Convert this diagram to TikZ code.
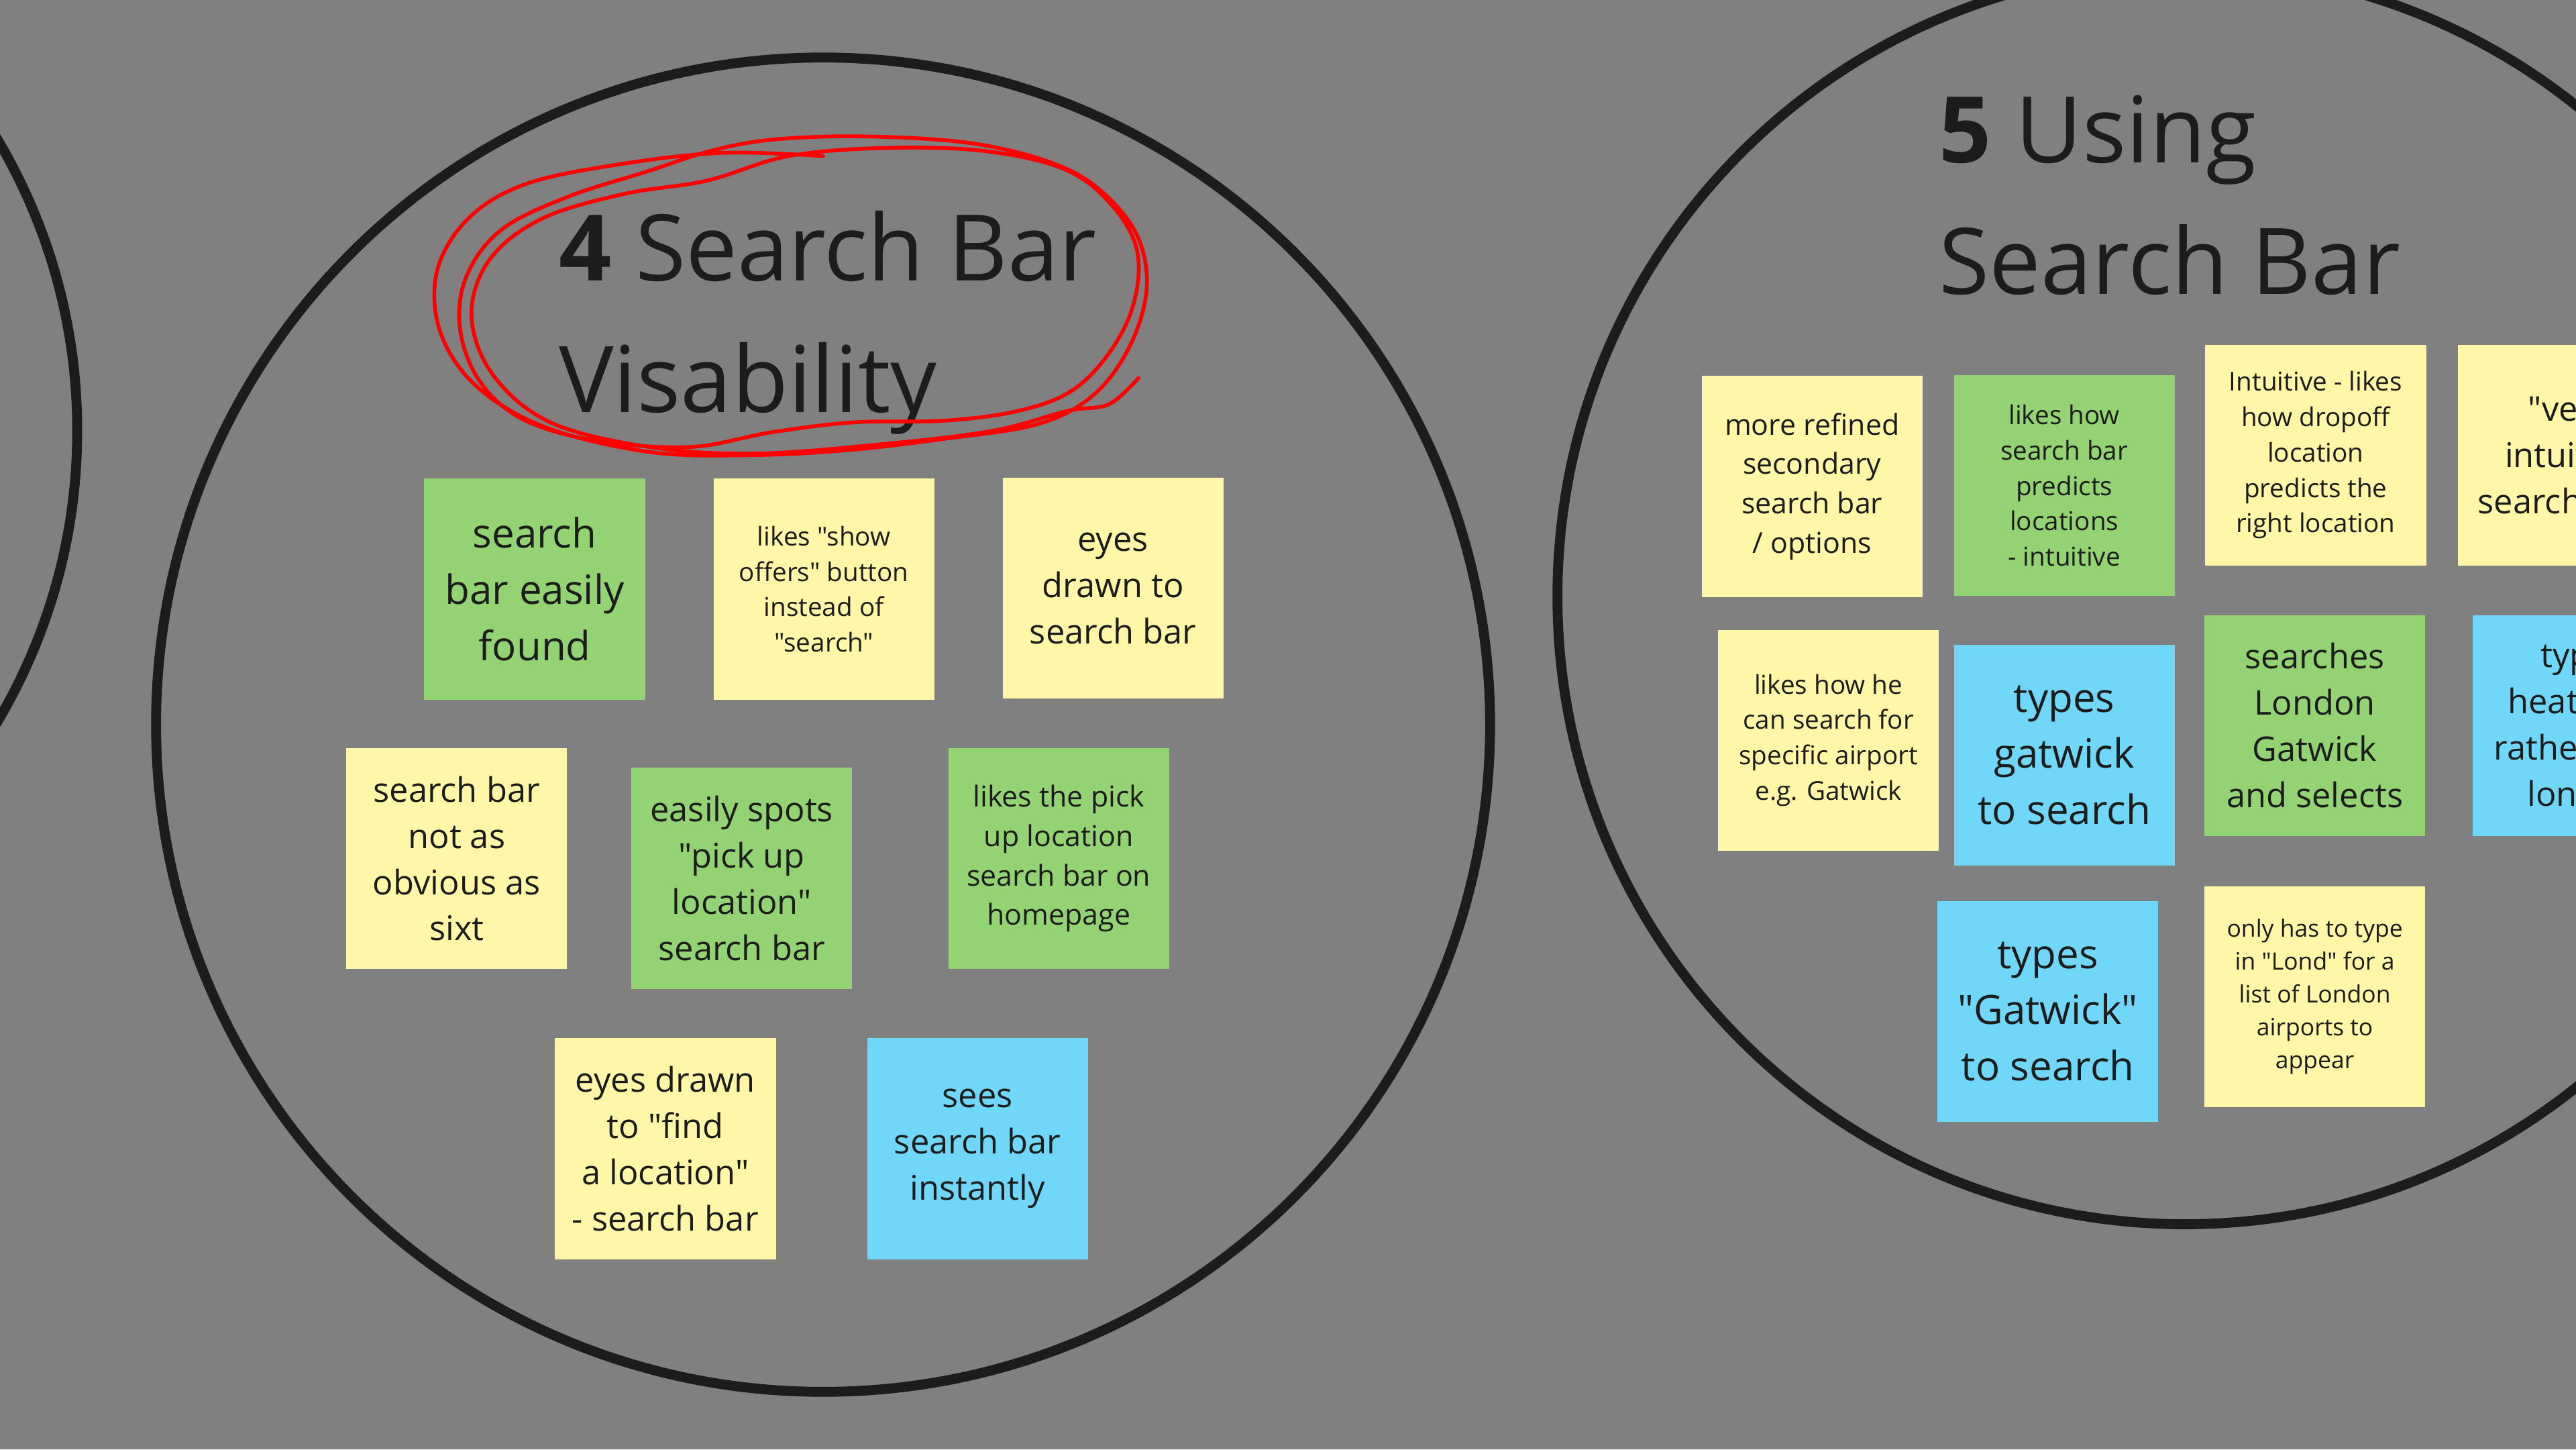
\documentclass[tikz,border=0pt]{standalone}
\usepackage{fontspec}
\newfontfamily\boardfont{Open Sans}
\usetikzlibrary{shadows}

\definecolor{board}{HTML}{808080}
\definecolor{ink}{HTML}{1C1C1C}
\definecolor{noteyellow}{HTML}{FFF6A8}
\definecolor{notegreen}{HTML}{94D374}
\definecolor{noteblue}{HTML}{70D7F9}

\begin{document}
\begin{tikzpicture}[x=0.02449cm,y=-0.02449cm,
    ring/.style={draw=ink,line width=4.2pt},
    scribble/.style={draw=red,line width=1.6pt,line join=round,line cap=round},
    heading/.style={anchor=base west,inner sep=0pt,text=ink,font=\boardfont\fontsize{39}{55}\selectfont},
    note/.style={minimum width=93.7pt,minimum height=93.7pt,inner sep=0pt,align=center,text=ink,
      drop shadow={shadow xshift=1pt,shadow yshift=-4pt,opacity=0.3}},
    yellow/.style={note,fill=noteyellow},
    green/.style={note,fill=notegreen},
    blue/.style={note,fill=noteblue},
    huge/.style={font=\boardfont\fontsize{17.1}{23.8}\selectfont},
    large/.style={font=\boardfont\fontsize{14.4}{19.6}\selectfont},
    medium/.style={font=\boardfont\fontsize{12.2}{16.7}\selectfont},
    small/.style={font=\boardfont\fontsize{11}{15}\selectfont},
    tiny/.style={font=\boardfont\fontsize{10.1}{13.9}\selectfont}]

  \useasboundingbox (0,0) rectangle (1568,882);
  \clip (0,0) rectangle (1568,882);
  \fill[board] (0,0) rectangle (1568,882);

  % the clusters
  \draw[ring] (-300,262) circle (347);
  \draw[ring] (501,441) circle (406);
  \draw[ring] (1330,363) circle (382);

  % titles
  \node (t4) at (340,171) [heading] {\textbf{4} Search Bar};
  \node (t4b) at (340,251) [heading] {Visability};
  \node (t5) at (1180,99) [heading] {\textbf{5} Using};
  \node (t5b) at (1180,179) [heading] {Search Bar};

  \draw[scribble] plot[smooth,tension=0.6] coordinates {
    (501,95) (440,93) (377,100) (320,112) (285,133) (266,165) (268,202) (290,235)
    (332,260) (395,275) (455,277) (515,274) (575,267) (632,258) (666,240) (688,210)
    (698,175) (692,143) (670,116) (640,99) (590,87) (525,83) (470,85) (432,92)
    (395,104) (345,120) (305,140) (284,168) (280,200) (292,232) (318,255) (362,268)
    (420,272) (470,263) (520,257) (575,256) (620,250) (652,238) (675,215) (690,185)
    (692,152) (676,124) (648,103) (600,92) (540,90) (480,95) (430,110) (380,118)
    (330,133) (298,158) (287,192) (300,228) (335,257) (395,272) (460,276) (540,270)
    (605,262) (650,250) (675,246) (693,230)};

  % 4 search bar visability
  \node (a1) at (325.5,358.5) [green,huge] {search\\bar easily\\found};
  \node (a2) at (501.5,358.5) [yellow,small] {likes "show\\offers" button\\instead of\\"search"};
  \node (a3) at (677.5,358) [yellow,large] {eyes\\drawn to\\search bar};
  \node (a4) at (278,522.5) [yellow,large] {search bar\\not as\\obvious as\\sixt};
  \node (a5) at (451.5,534.5) [green,large] {easily spots\\"pick up\\location"\\search bar};
  \node (a6) at (644.5,522.5) [green,medium] {likes the pick\\up location\\search bar on\\homepage};
  \node (a7) at (405,699) [yellow,large] {eyes drawn\\to "find\\a location"\\- search bar};
  \node (a8) at (595,699) [blue,large] {sees\\search bar\\instantly};

  % 5 using search bar
  \node (b1) at (1103,296) [yellow,medium] {more refined\\secondary\\search bar\\/ options};
  \node (b2) at (1256.5,295.5) [green,small] {likes how\\search bar\\predicts\\locations\\- intuitive};
  \node (b3) at (1409.5,277) [yellow,small] {Intuitive - likes\\how dropoff\\location\\predicts the\\right location};
  \node (b4) at (1563.5,277) [yellow,large] {"very\\intuitive\\search bar"};
  \node (b5) at (1113,450.5) [yellow,small] {likes how he\\can search for\\specific airport\\e.g. Gatwick};
  \node (b6) at (1256.5,459.5) [blue,huge] {types\\gatwick\\to search};
  \node (b7) at (1409,441.5) [green,large] {searches\\London\\Gatwick\\and selects};
  \node (b8) at (1572.5,441.5) [blue,large] {types\\heathrow\\rather than\\london};
  \node (b9) at (1246.5,615.5) [blue,huge] {types\\"Gatwick"\\to search};
  \node (b10) at (1409,606.5) [yellow,tiny] {only has to type\\in "Lond" for a\\list of London\\airports to\\appear};
\end{tikzpicture}
\end{document}
